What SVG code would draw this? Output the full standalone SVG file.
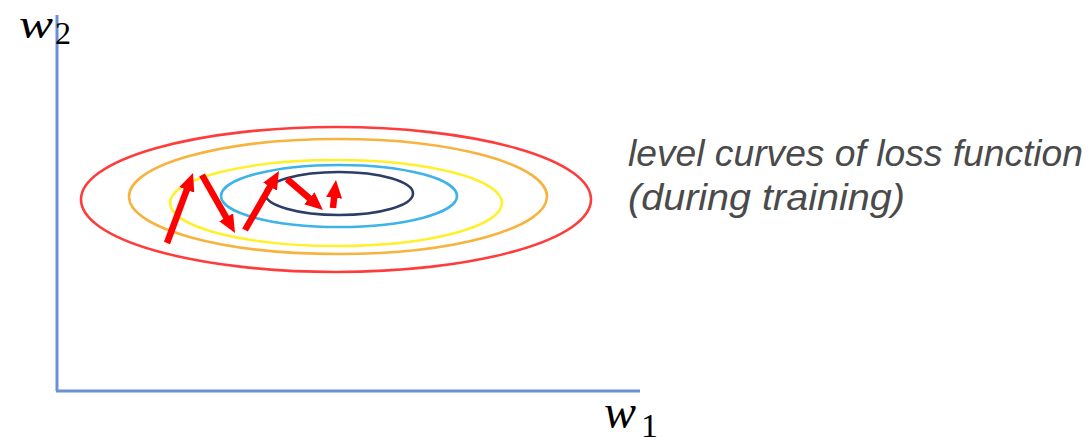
<svg xmlns="http://www.w3.org/2000/svg" width="1088" height="443" viewBox="0 0 1088 443">
<style>
.axis{stroke:#6b8fd8;stroke-width:3;fill:none}
.lc{fill:none;stroke-width:2.6}
.step{stroke:#ff0000;stroke-width:6.5;fill:none;marker-end:url(#head)}
.math{font-family:"Liberation Serif","DejaVu Serif",serif;font-style:italic;fill:#000}
.num{font-family:"Liberation Serif","DejaVu Serif",serif;fill:#000}
.note{font-family:"Liberation Sans","DejaVu Sans",sans-serif;font-style:italic;fill:#4a4a4a;font-size:37px}
</style>
<defs>
<marker id="head" viewBox="0 0 18 16" markerWidth="18" markerHeight="16" refX="5" refY="8" orient="auto" markerUnits="userSpaceOnUse">
<path d="M0,0 L18,8 L0,16 z" fill="#ff0000"/>
</marker>
</defs>
<g id="axes">
<line class="axis" x1="57" y1="15" x2="57" y2="391"/>
<line class="axis" x1="56" y1="391" x2="640" y2="391"/>
</g>
<g id="label-w2">
<text class="math" x="19" y="37.5" font-size="42" textLength="34" lengthAdjust="spacingAndGlyphs">w</text>
<text class="num" x="55" y="44" font-size="32">2</text>
</g>
<g id="label-w1">
<text class="math" x="604" y="428" font-size="48">w</text>
<text class="num" x="641" y="437" font-size="34">1</text>
</g>
<g id="level-curves">
<ellipse id="curve-red" class="lc" stroke="#ff3c3c" cx="336" cy="199.5" rx="255" ry="72.5"/>
<ellipse id="curve-orange" class="lc" stroke="#f8b23e" cx="338" cy="196.5" rx="209" ry="57.5"/>
<ellipse id="curve-yellow" class="lc" stroke="#fff02a" cx="336" cy="203" rx="166" ry="43"/>
<ellipse id="curve-cyan" class="lc" stroke="#3db3e8" cx="339" cy="196" rx="118" ry="31"/>
<ellipse id="curve-navy" class="lc" stroke="#2c3d66" cx="339" cy="193.5" rx="74" ry="21.5"/>
</g>
<g id="connectors">
<line class="step" x1="167" y1="243" x2="188.5" y2="185.2"/>
<line class="step" x1="202" y1="175" x2="228.6" y2="221.7"/>
<line class="step" x1="245" y1="230" x2="272.5" y2="182.3"/>
<line class="step" x1="287" y1="179" x2="313.1" y2="201.5"/>
<line class="step" x1="333" y1="208" x2="334.6" y2="192.9"/>
</g>
<g id="caption">
<text class="note" x="628" y="166" textLength="455" lengthAdjust="spacingAndGlyphs">level curves of loss function</text>
<text class="note" x="628" y="210" textLength="277" lengthAdjust="spacingAndGlyphs">(during training)</text>
</g>
</svg>
